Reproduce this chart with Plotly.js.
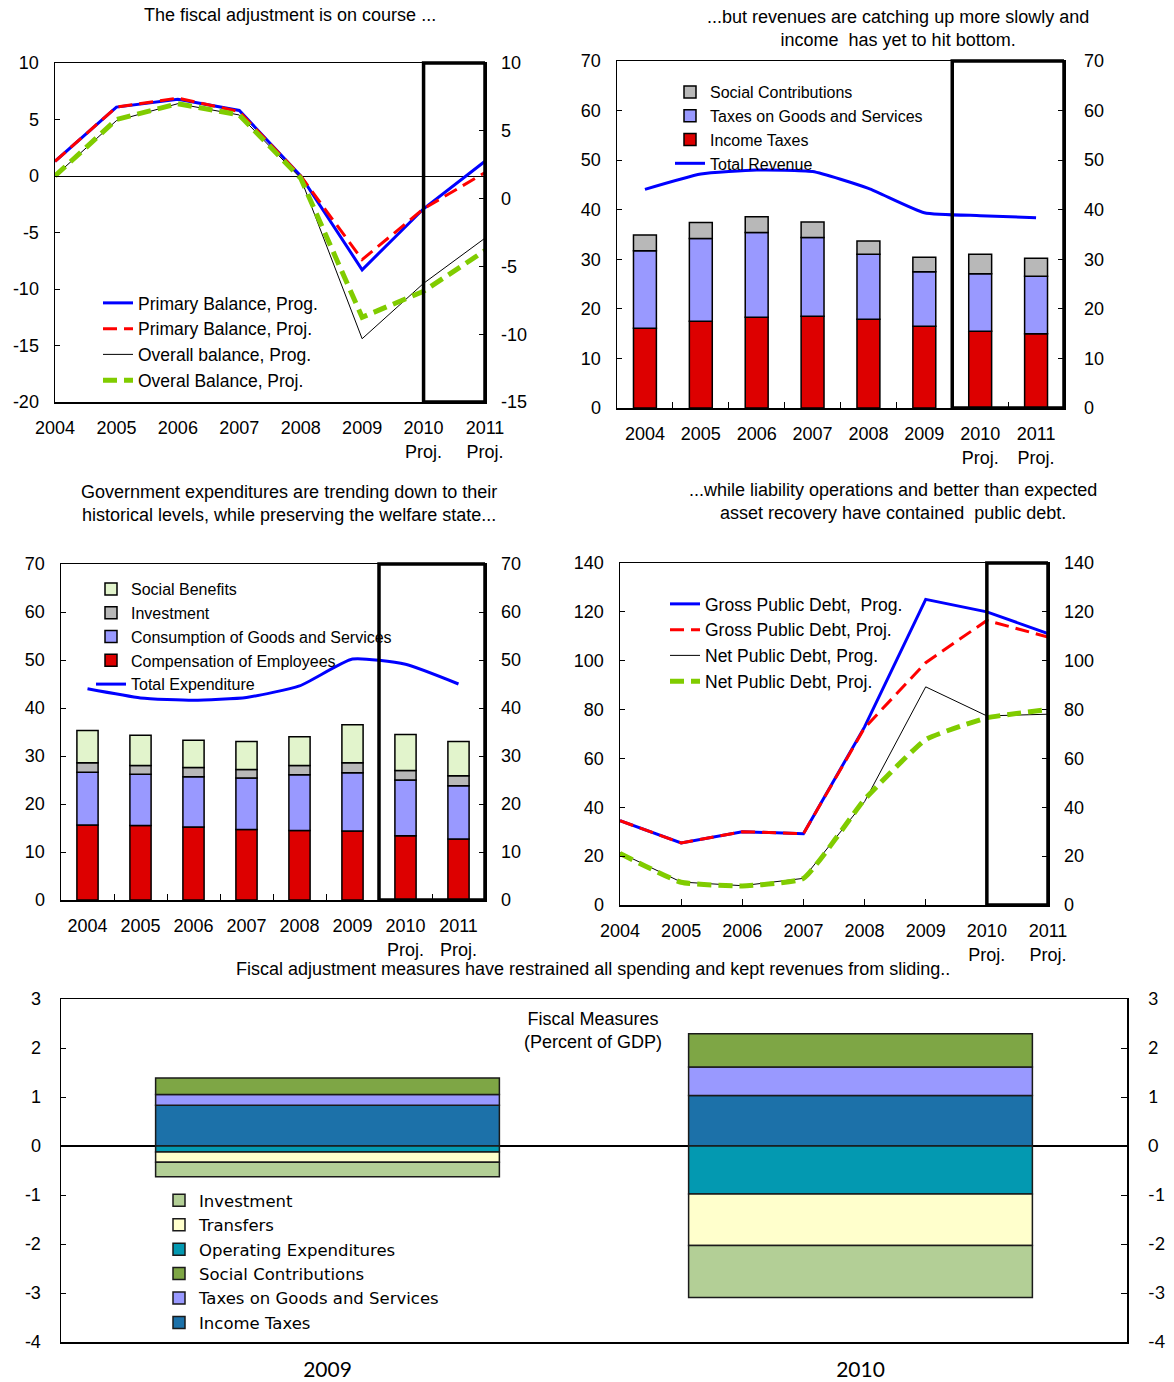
<!DOCTYPE html>
<html><head><meta charset="utf-8">
<script src="https://cdn.plot.ly/plotly-3.0.1.min.js"></script>
<style>html,body{margin:0;padding:0;background:#fff}</style>
</head><body><div id="chart" style="width:1174px;height:1382px"></div>
<script>
// ---------- DATA ----------
const yearLabels = ['2004','2005','2006','2007','2008','2009','2010<br>Proj.','2011<br>Proj.'];

// Panel 1: balances (% of GDP)
const primaryBalanceProg = [1.3, 6.1, 6.8, 5.8, 0.0, -8.3, -2.9, 1.3];
const primaryBalanceProj = [1.3, 6.1, 6.9, 5.7, 0.0, -7.4, -2.9, 0.3];
const overallBalanceProg = [0.0, 4.9, 6.4, 5.4, -0.2, -14.4, -9.5, -5.5];
const overallBalanceProj = [0.0, 5.0, 6.4, 5.4, -0.2, -12.5, -10.2, -6.6];
const p1LeftTickVals = [-20, -15, -10, -5, 0, 5, 10];
const p1LeftTickText = ['-20', '-15', '-10', '-5', '0', '5', '10'];
const p1RightTickVals = [-15, -10, -5, 0, 5, 10];
const p1RightTickText = ['-15', '-10', '-5', '0', '5', '10'];

// Panel 2: revenues
const revIncomeTaxes = [16.1, 17.5, 18.3, 18.5, 17.9, 16.5, 15.5, 15.0];
const revGoodsServices = [15.6, 16.7, 17.1, 15.9, 13.1, 11.0, 11.6, 11.6];
const revSocialContrib = [3.2, 3.2, 3.2, 3.1, 2.7, 2.9, 3.9, 3.6];
const totalRevenue = [44.1, 47.2, 48.0, 47.7, 44.3, 39.4, 38.8, 38.4];

// Panel 3: expenditures
const expCompensation = [15.6, 15.5, 15.2, 14.7, 14.5, 14.4, 13.4, 12.7];
const expConsumption = [11.0, 10.7, 10.5, 10.7, 11.6, 12.1, 11.6, 11.1];
const expInvestment = [2.0, 1.8, 1.9, 1.8, 1.9, 2.1, 2.0, 2.1];
const expSocialBenefits = [6.7, 6.3, 5.7, 5.8, 6.0, 7.9, 7.5, 7.1];
const totalExpenditure = [44.0, 42.1, 41.6, 42.2, 44.6, 50.2, 49.1, 45.0];

// Panel 4: debt
const grossDebtProg = [34.5, 25.4, 30.0, 29.2, 72.9, 125.1, 120.0, 111.1];
const grossDebtProj = [34.5, 25.4, 30.0, 29.2, 72.5, 99.2, 116.5, 109.7];
const netDebtProg = [21.4, 9.4, 7.9, 10.9, 42.3, 89.3, 77.4, 78.1];
const netDebtProj = [21.1, 9.3, 7.8, 10.9, 43.2, 67.7, 76.6, 80.0];

// Panel 5: fiscal measures (percent of GDP)
const measureYears = ['2009', '2010'];
const mIncomeTaxes = [0.83, 1.03];
const mGoodsServices = [0.22, 0.58];
const mSocialContrib = [0.34, 0.68];
const mOperatingExp = [-0.12, -0.98];
const mTransfers = [-0.21, -1.05];
const mInvestment = [-0.30, -1.06];
const p5TickVals = [-4, -3, -2, -1, 0, 1, 2, 3];
const p5TickText = ['-4', '-3', '-2', '-1', '0', '1', '2', '3'];

// ---------- STYLE ----------
const W = 1174, H = 1382;
const px = v => v / W;
const py = v => 1 - v / H;
const AR = 'Liberation Sans, Arial, sans-serif';
const DJ = 'DejaVu Sans, sans-serif';

const traces = [];
// Panel 1
traces.push({type:'scatter', mode:'lines', x:yearLabels, y:primaryBalanceProg, xaxis:'x', yaxis:'y', name:'Primary Balance, Prog.',
  line:{color:'#0000ff', width:3}, legend:'legend', legendgroup:'a1'});
traces.push({type:'scatter', mode:'lines', x:yearLabels, y:primaryBalanceProj, xaxis:'x', yaxis:'y', name:'Primary Balance, Proj.',
  line:{color:'#ff0000', width:3, dash:'14px,7px'}, legend:'legend', legendgroup:'a2'});
traces.push({type:'scatter', mode:'lines', x:yearLabels, y:overallBalanceProg, xaxis:'x', yaxis:'y', name:'Overall balance, Prog.',
  line:{color:'#000000', width:1}, legend:'legend', legendgroup:'a3'});
traces.push({type:'scatter', mode:'lines', x:yearLabels, y:overallBalanceProj, xaxis:'x', yaxis:'y', name:'Overal Balance, Proj.',
  line:{color:'#80cc00', width:5, dash:'14px,7px'}, legend:'legend', legendgroup:'a4'});
traces.push({type:'scatter', x:[], y:[], xaxis:'x', yaxis:'y2', showlegend:false, hoverinfo:'skip'});

// Panel 2
const barLine = {color:'#000', width:1.5};
traces.push({type:'bar', x:yearLabels, y:revIncomeTaxes, xaxis:'x2', yaxis:'y3', name:'Income Taxes', width:0.41,
  marker:{color:'#dd0000', line:barLine}, legend:'legend2', legendrank:3});
traces.push({type:'bar', x:yearLabels, y:revGoodsServices, xaxis:'x2', yaxis:'y3', name:'Taxes on Goods and Services', width:0.41,
  marker:{color:'#9999ff', line:barLine}, legend:'legend2', legendrank:2});
traces.push({type:'bar', x:yearLabels, y:revSocialContrib, xaxis:'x2', yaxis:'y3', name:'Social Contributions', width:0.41,
  marker:{color:'#b8b8b8', line:barLine}, legend:'legend2', legendrank:1});
traces.push({type:'scatter', mode:'lines', x:yearLabels, y:totalRevenue, xaxis:'x2', yaxis:'y3', name:'Total Revenue',
  line:{color:'#0000ff', width:3, shape:'spline', smoothing:0.5}, legend:'legend2', legendrank:4});
traces.push({type:'scatter', x:[], y:[], xaxis:'x2', yaxis:'y4', showlegend:false, hoverinfo:'skip'});

// Panel 3
traces.push({type:'bar', x:yearLabels, y:expCompensation, xaxis:'x3', yaxis:'y5', name:'Compensation of Employees', width:0.4,
  marker:{color:'#dd0000', line:barLine}, legend:'legend3', legendrank:4});
traces.push({type:'bar', x:yearLabels, y:expConsumption, xaxis:'x3', yaxis:'y5', name:'Consumption of Goods and Services', width:0.4,
  marker:{color:'#9999ff', line:barLine}, legend:'legend3', legendrank:3});
traces.push({type:'bar', x:yearLabels, y:expInvestment, xaxis:'x3', yaxis:'y5', name:'Investment', width:0.4,
  marker:{color:'#b8b8b8', line:barLine}, legend:'legend3', legendrank:2});
traces.push({type:'bar', x:yearLabels, y:expSocialBenefits, xaxis:'x3', yaxis:'y5', name:'Social Benefits', width:0.4,
  marker:{color:'#e2f4cc', line:barLine}, legend:'legend3', legendrank:1});
traces.push({type:'scatter', mode:'lines', x:yearLabels, y:totalExpenditure, xaxis:'x3', yaxis:'y5', name:'Total Expenditure',
  line:{color:'#0000ff', width:3, shape:'spline', smoothing:0.5}, legend:'legend3', legendrank:5});
traces.push({type:'scatter', x:[], y:[], xaxis:'x3', yaxis:'y6', showlegend:false, hoverinfo:'skip'});

// Panel 4
traces.push({type:'scatter', mode:'lines', x:yearLabels, y:grossDebtProg, xaxis:'x4', yaxis:'y7', name:'Gross Public Debt,  Prog.',
  line:{color:'#0000ff', width:3}, legend:'legend4', legendgroup:'d1'});
traces.push({type:'scatter', mode:'lines', x:yearLabels, y:grossDebtProj, xaxis:'x4', yaxis:'y7', name:'Gross Public Debt, Proj.',
  line:{color:'#ff0000', width:3, dash:'14px,7px'}, legend:'legend4', legendgroup:'d2'});
traces.push({type:'scatter', mode:'lines', x:yearLabels, y:netDebtProg, xaxis:'x4', yaxis:'y7', name:'Net Public Debt, Prog.',
  line:{color:'#000000', width:1}, legend:'legend4', legendgroup:'d3'});
traces.push({type:'scatter', mode:'lines', x:yearLabels, y:netDebtProj, xaxis:'x4', yaxis:'y7', name:'Net Public Debt, Proj.',
  line:{color:'#80cc00', width:5, dash:'14px,7px', shape:'spline', smoothing:0.4}, legend:'legend4', legendgroup:'d4'});
traces.push({type:'scatter', x:[], y:[], xaxis:'x4', yaxis:'y8', showlegend:false, hoverinfo:'skip'});

// Panel 5
const mLine = {color:'#1a1a1a', width:1.5};
const m5 = (y, name, color, rank) => ({type:'bar', x:measureYears, y:y, xaxis:'x5', yaxis:'y9', name:name, width:0.645,
  marker:{color:color, line:mLine}, legend:'legend5', legendrank:rank});
traces.push(m5(mIncomeTaxes, 'Income Taxes', '#1c71a9', 6));
traces.push(m5(mGoodsServices, 'Taxes on Goods and Services', '#9999ff', 5));
traces.push(m5(mSocialContrib, 'Social Contributions', '#7ea645', 4));
traces.push(m5(mOperatingExp, 'Operating Expenditures', '#0399b1', 3));
traces.push(m5(mTransfers, 'Transfers', '#ffffcc', 2));
traces.push(m5(mInvestment, 'Investment', '#b3cf96', 1));
traces.push({type:'scatter', x:[], y:[], xaxis:'x5', yaxis:'y10', showlegend:false, hoverinfo:'skip'});

// ---------- LAYOUT ----------
const tf = {family: AR, size: 18, color: '#000'};
const xBase = (d, anchor, extra) => Object.assign({domain:d, anchor:anchor, type:'category', showline:true, mirror:true,
  linecolor:'#000', linewidth:1.5, showgrid:false, zeroline:false, tickfont:tf, fixedrange:true, ticklabelstandoff:9}, extra||{});
const yLeft = (d, anchor, range, dtick, extra) => Object.assign({domain:d, anchor:anchor, range:range, dtick:dtick,
  showline:true, mirror:true, linecolor:'#000', linewidth:1.5, showgrid:false, zeroline:false, ticks:'inside', ticklen:5,
  tickcolor:'#000', tickfont:tf, fixedrange:true, ticklabelstandoff:11}, extra||{});
const yRight = (over, anchor, range, dtick, extra) => Object.assign({overlaying:over, anchor:anchor, side:'right', range:range,
  dtick:dtick, showline:false, showgrid:false, zeroline:false, ticks:'inside', ticklen:6, tickcolor:'#000', tickfont:tf,
  fixedrange:true, ticklabelstandoff:15}, extra||{});

const d1x = [px(55), px(485)], d1y = [py(402), py(63)];
const d2x = [px(617), px(1064)], d2y = [py(408), py(61)];
const d3x = [px(61), px(485)], d3y = [py(900), py(564)];
const d4x = [px(620), px(1048)], d4y = [py(905), py(563)];
const d5x = [px(61), px(1127)], d5y = [py(1342), py(999)];

const legendBase = (x, y, font, extra) => Object.assign({x:px(x), y:py(y), xanchor:'left', yanchor:'top', xref:'paper', yref:'paper',
  bgcolor:'rgba(0,0,0,0)', font:font, traceorder:'normal'}, extra||{});

const boxLine = {color:'#000', width:3.5};
const ann = (text, x, y) => ({text:text, x:px(x), y:py(y), xref:'paper', yref:'paper', xanchor:'center', yanchor:'middle',
  showarrow:false, font:tf});
const layout = {
  width: W, height: H, margin:{l:0, r:0, t:0, b:0}, paper_bgcolor:'#fff', plot_bgcolor:'#fff',
  barmode:'relative', showlegend:true, font:{family:AR, color:'#000'},
  xaxis: xBase(d1x, 'y', {range:[0,7], ticks:''}),
  yaxis: yLeft(d1y, 'x', [-20,10], 5, {tickvals:p1LeftTickVals, ticktext:p1LeftTickText, zeroline:true, zerolinecolor:'#000', zerolinewidth:1}),
  yaxis2: yRight('y', 'x', [-15,10], 5, {tickvals:p1RightTickVals, ticktext:p1RightTickText}),
  xaxis2: xBase(d2x, 'y3', {range:[-0.5,7.5], ticks:'inside', tickson:'boundaries', ticklen:6, tickcolor:'#000'}),
  yaxis3: yLeft(d2y, 'x2', [0,70], 10),
  yaxis4: yRight('y3', 'x2', [0,70], 10, {ticklabelstandoff:19}),
  xaxis3: xBase(d3x, 'y5', {range:[-0.5,7.5], ticks:'inside', tickson:'boundaries', ticklen:6, tickcolor:'#000'}),
  yaxis5: yLeft(d3y, 'x3', [0,70], 10),
  yaxis6: yRight('y5', 'x3', [0,70], 10),
  xaxis4: xBase(d4x, 'y7', {range:[0,7], ticks:'inside', ticklen:6, tickcolor:'#000'}),
  yaxis7: yLeft(d4y, 'x4', [0,140], 20),
  yaxis8: yRight('y7', 'x4', [0,140], 20),
  xaxis5: xBase(d5x, 'y9', {range:[-0.5,1.5], ticks:'', tickfont:{family:'Lato, sans-serif', size:21, color:'#000'}, ticklabelstandoff:8}),
  yaxis9: yLeft(d5y, 'x5', [-4,3], 1, {tickvals:p5TickVals, ticktext:p5TickText, zeroline:true, zerolinecolor:'#000', zerolinewidth:1.5, ticklabelstandoff:15}),
  yaxis10: yRight('y9', 'x5', [-4,3], 1, {tickvals:p5TickVals, ticktext:p5TickText, tickfont:{family:'Lato, sans-serif', size:18, color:'#000'}, ticklabelstandoff:20}),
  legend: legendBase(98, 285, {family:AR, size:17.5, color:'#000'}, {tracegroupgap:2.5}),
  legend2: legendBase(670, 75, {family:AR, size:16, color:'#000'}),
  legend3: legendBase(91, 572, {family:AR, size:16, color:'#000'}),
  legend4: legendBase(665, 586, {family:AR, size:17.5, color:'#000'}, {tracegroupgap:0}),
  legend5: legendBase(159, 1183, {family:DJ, size:16.5, color:'#000'}),
  shapes: [
    {type:'rect', xref:'x', yref:'y domain', x0:6, x1:7, y0:0, y1:1, line:boxLine, layer:'above'},
    {type:'rect', xref:'x2', yref:'y3 domain', x0:5.5, x1:7.5, y0:0, y1:1, line:boxLine, layer:'above'},
    {type:'rect', xref:'x3', yref:'y5 domain', x0:5.5, x1:7.5, y0:0, y1:1, line:boxLine, layer:'above'},
    {type:'rect', xref:'x4', yref:'y7 domain', x0:6, x1:7, y0:0, y1:1, line:boxLine, layer:'above'}
  ],
  annotations: [
    ann('The fiscal adjustment is on course ...', 290, 15),
    ann('...but revenues are catching up more slowly and<br>income  has yet to hit bottom.', 898, 29),
    ann('Government expenditures are trending down to their<br>historical levels, while preserving the welfare state...', 289, 503),
    ann('...while liability operations and better than expected<br>asset recovery have contained  public debt.', 893, 501),
    ann('Fiscal adjustment measures have restrained all spending and kept revenues from sliding..', 593, 969),
    ann('Fiscal Measures<br>(Percent of GDP)', 593, 1030)
  ]
};

Plotly.newPlot('chart', traces, layout, {displayModeBar:false, staticPlot:true});
</script>
</body></html>
